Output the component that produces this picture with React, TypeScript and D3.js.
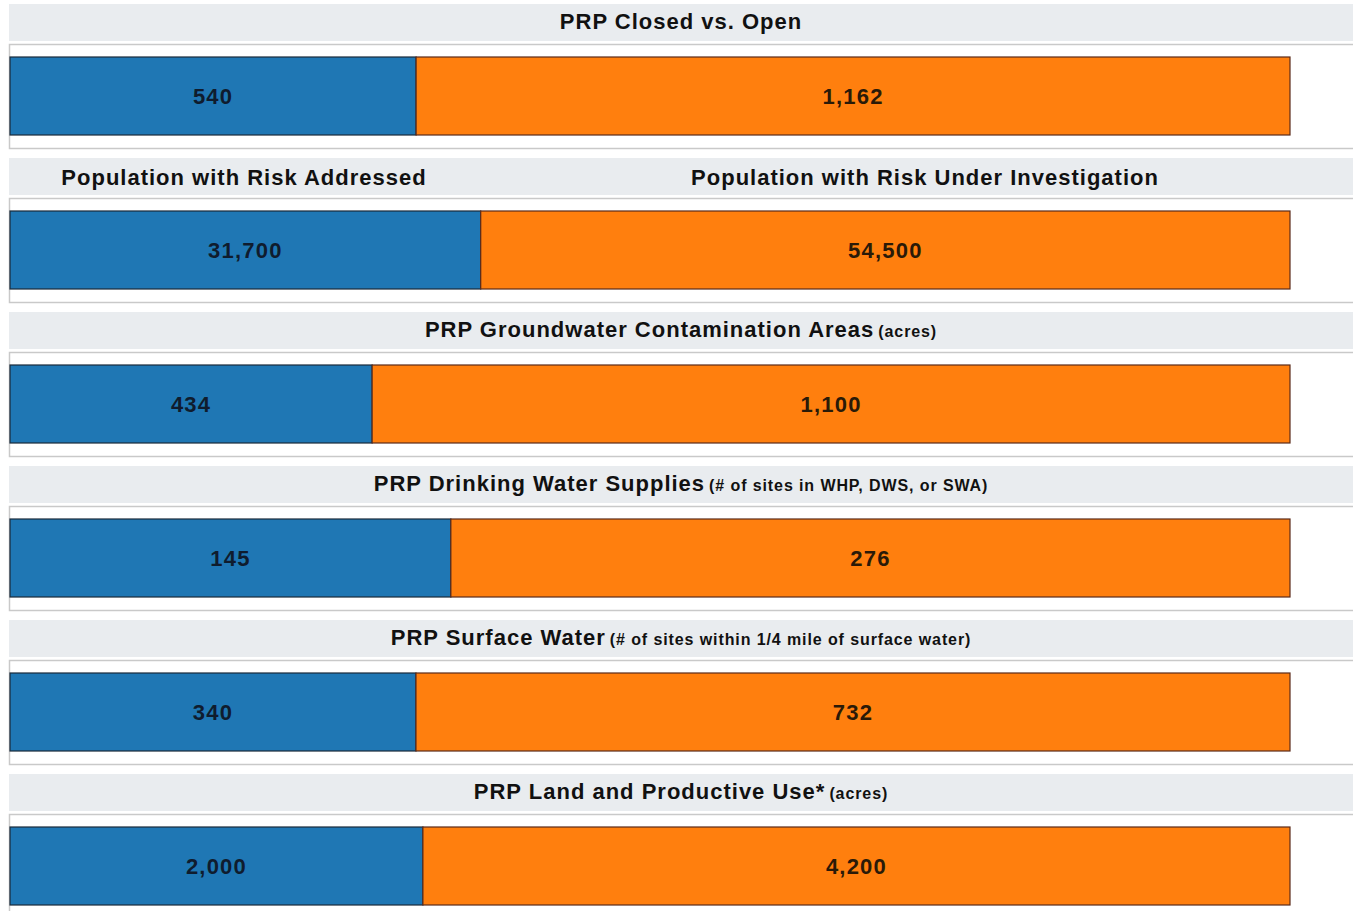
import React, { useRef, useEffect } from "react";
import * as d3 from "d3";

// one row per measure: closed / addressed on the left, open / under investigation on the right
const panelTitles = [
  "PRP Closed vs. Open",
  "",
  "PRP Groundwater Contamination Areas",
  "PRP Drinking Water Supplies",
  "PRP Surface Water",
  "PRP Land and Productive Use*",
];
const titleNotes = [
  "",
  "",
  "(acres)",
  "(# of sites in WHP, DWS, or SWA)",
  "(# of sites within 1/4 mile of surface water)",
  "(acres)",
];
const splitTitles = ["Population with Risk Addressed", "Population with Risk Under Investigation"];
const closedValues = [540, 31700, 434, 145, 340, 2000];
const openValues = [1162, 54500, 1100, 276, 732, 4200];

const W = 1353;
const H = 911;
const ROW = 154;
const FONT = "'Liberation Sans', Arial, sans-serif";

function App() {
  const svgRef = useRef<SVGSVGElement>(null);

  useEffect(() => {
    const svg = d3.select(svgRef.current);
    svg.selectAll("*").remove();
    const fmt = d3.format(",");

    const rowScale = d3.scaleBand<number>()
      .domain(d3.range(closedValues.length))
      .range([0, ROW * closedValues.length]);

    const rows = svg.selectAll("g.row")
      .data(closedValues.map((c, i) => ({ i, closed: c, open: openValues[i] })))
      .join("g")
      .attr("class", "row")
      .attr("transform", d => `translate(0,${rowScale(d.i)})`);

    // header band
    rows.append("rect")
      .attr("x", 9).attr("y", 4)
      .attr("width", W - 9).attr("height", 37)
      .attr("fill", "#e9ecef");

    // box around the bar
    rows.append("rect")
      .attr("x", 9.5).attr("y", 44.5)
      .attr("width", W).attr("height", 104)
      .attr("fill", "#fff")
      .attr("stroke", "#c9c9c9")
      .attr("stroke-width", 1.5);

    rows.each(function (d) {
      const g = d3.select(this);
      const x = d3.scaleLinear().domain([0, d.closed + d.open]).range([10, 1290]);

      const segs = [
        { x0: 0, x1: d.closed, v: d.closed, fill: "#1f77b4", stroke: "#1a2a3a", text: "#0f1c2e" },
        { x0: d.closed, x1: d.closed + d.open, v: d.open, fill: "#ff7f0e", stroke: "#5a2a1a", text: "#2a1a08" },
      ];

      g.selectAll("rect.bar")
        .data(segs)
        .join("rect")
        .attr("class", "bar")
        .attr("x", s => x(s.x0))
        .attr("y", 57)
        .attr("width", s => x(s.x1) - x(s.x0))
        .attr("height", 78)
        .attr("fill", s => s.fill)
        .attr("stroke", s => s.stroke)
        .attr("stroke-width", 1.2);

      g.selectAll("text.val")
        .data(segs)
        .join("text")
        .attr("class", "val")
        .attr("x", s => (x(s.x0) + x(s.x1)) / 2)
        .attr("y", 96)
        .attr("dy", "0.36em")
        .attr("text-anchor", "middle")
        .attr("font-family", FONT)
        .attr("font-weight", "bold")
        .attr("font-size", 22)
        .attr("letter-spacing", 1.2)
        .attr("fill", s => s.text)
        .text(s => fmt(s.v));

      if (panelTitles[d.i]) {
        const t = g.append("text")
          .attr("x", 681)
          .attr("y", 23)
          .attr("dy", "0.36em")
          .attr("text-anchor", "middle")
          .attr("font-family", FONT)
          .attr("font-weight", "bold")
          .attr("fill", "#111");
        t.append("tspan").attr("font-size", 22).attr("letter-spacing", 1).text(panelTitles[d.i]);
        if (titleNotes[d.i]) {
          t.append("tspan").attr("font-size", 16).attr("letter-spacing", 0.9).attr("dx", 4).text(titleNotes[d.i]);
        }
      } else {
        g.selectAll("text.split")
          .data(splitTitles)
          .join("text")
          .attr("class", "split")
          .attr("x", (_, k) => (k === 0 ? 244 : 925))
          .attr("y", 23)
          .attr("dy", "0.36em")
          .attr("text-anchor", "middle")
          .attr("font-family", FONT)
          .attr("font-weight", "bold")
          .attr("font-size", 22)
          .attr("letter-spacing", 1)
          .attr("fill", "#111")
          .text(s => s);
      }
    });
  }, []);

  return (
    <div style={{ position: "absolute", left: 0, top: 0, background: "#fff" }}>
      <svg ref={svgRef} width={W} height={H} style={{ display: "block" }} />
    </div>
  );
}

export default App;
